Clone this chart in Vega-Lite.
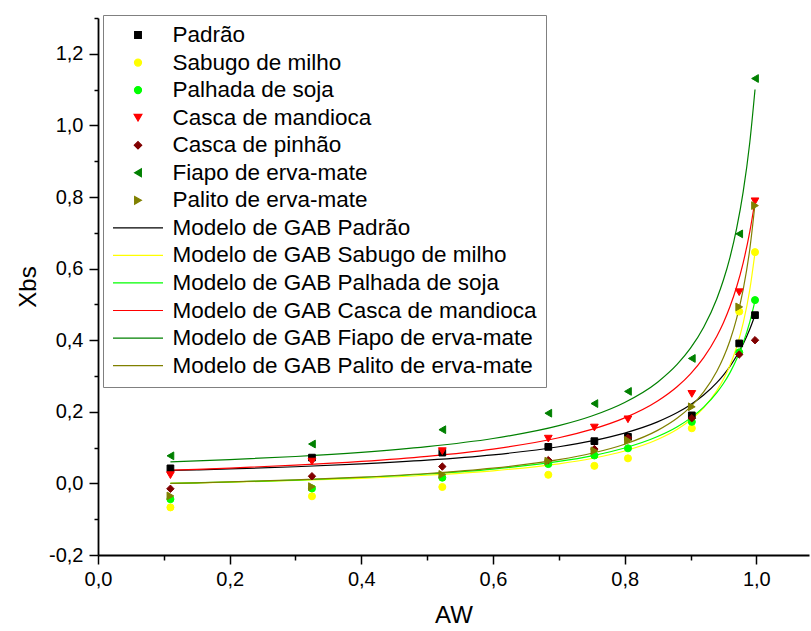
{
  "$schema": "https://vega.github.io/schema/vega-lite/v6.json",
  "width": 711,
  "height": 537,
  "autosize": {"type": "none"},
  "padding": {"left": 98, "top": 18, "right": 2, "bottom": 76},
  "background": "white",
  "config": {
    "view": {"stroke": null},
    "axis": {
      "domainColor": "black",
      "domainWidth": 1.8,
      "tickColor": "black",
      "tickWidth": 1.5,
      "labelFont": "Liberation Sans",
      "labelFontSize": 20,
      "labelColor": "black",
      "titleFont": "Liberation Sans",
      "titleFontSize": 24,
      "titleFontWeight": "normal",
      "titleColor": "black",
      "grid": false
    }
  },
  "datasets": {
    "pts": [
      {"serie": "Padrão", "aw": 0.11, "xbs": 0.042},
      {"serie": "Padrão", "aw": 0.325, "xbs": 0.072},
      {"serie": "Padrão", "aw": 0.523, "xbs": 0.086},
      {"serie": "Padrão", "aw": 0.684, "xbs": 0.102},
      {"serie": "Padrão", "aw": 0.754, "xbs": 0.118},
      {"serie": "Padrão", "aw": 0.805, "xbs": 0.130},
      {"serie": "Padrão", "aw": 0.902, "xbs": 0.190},
      {"serie": "Padrão", "aw": 0.974, "xbs": 0.391},
      {"serie": "Padrão", "aw": 0.998, "xbs": 0.470},
      {"serie": "Sabugo de milho", "aw": 0.11, "xbs": -0.067},
      {"serie": "Sabugo de milho", "aw": 0.325, "xbs": -0.036},
      {"serie": "Sabugo de milho", "aw": 0.523, "xbs": -0.010},
      {"serie": "Sabugo de milho", "aw": 0.684, "xbs": 0.024},
      {"serie": "Sabugo de milho", "aw": 0.754, "xbs": 0.049},
      {"serie": "Sabugo de milho", "aw": 0.805, "xbs": 0.070},
      {"serie": "Sabugo de milho", "aw": 0.902, "xbs": 0.154},
      {"serie": "Sabugo de milho", "aw": 0.974, "xbs": 0.480},
      {"serie": "Sabugo de milho", "aw": 0.998, "xbs": 0.646},
      {"serie": "Palhada de soja", "aw": 0.11, "xbs": -0.044},
      {"serie": "Palhada de soja", "aw": 0.325, "xbs": -0.014},
      {"serie": "Palhada de soja", "aw": 0.523, "xbs": 0.016},
      {"serie": "Palhada de soja", "aw": 0.684, "xbs": 0.054},
      {"serie": "Palhada de soja", "aw": 0.754, "xbs": 0.078},
      {"serie": "Palhada de soja", "aw": 0.805, "xbs": 0.098},
      {"serie": "Palhada de soja", "aw": 0.902, "xbs": 0.172},
      {"serie": "Palhada de soja", "aw": 0.974, "xbs": 0.366},
      {"serie": "Palhada de soja", "aw": 0.998, "xbs": 0.512},
      {"serie": "Casca de mandioca", "aw": 0.11, "xbs": 0.023},
      {"serie": "Casca de mandioca", "aw": 0.325, "xbs": 0.061},
      {"serie": "Casca de mandioca", "aw": 0.523, "xbs": 0.090},
      {"serie": "Casca de mandioca", "aw": 0.684, "xbs": 0.125},
      {"serie": "Casca de mandioca", "aw": 0.754, "xbs": 0.156},
      {"serie": "Casca de mandioca", "aw": 0.805, "xbs": 0.179},
      {"serie": "Casca de mandioca", "aw": 0.902, "xbs": 0.250},
      {"serie": "Casca de mandioca", "aw": 0.974, "xbs": 0.534},
      {"serie": "Casca de mandioca", "aw": 0.998, "xbs": 0.788},
      {"serie": "Casca de pinhão", "aw": 0.11, "xbs": -0.015},
      {"serie": "Casca de pinhão", "aw": 0.325, "xbs": 0.020},
      {"serie": "Casca de pinhão", "aw": 0.523, "xbs": 0.047},
      {"serie": "Casca de pinhão", "aw": 0.684, "xbs": 0.065},
      {"serie": "Casca de pinhão", "aw": 0.754, "xbs": 0.096},
      {"serie": "Casca de pinhão", "aw": 0.805, "xbs": 0.127},
      {"serie": "Casca de pinhão", "aw": 0.902, "xbs": 0.182},
      {"serie": "Casca de pinhão", "aw": 0.974, "xbs": 0.360},
      {"serie": "Casca de pinhão", "aw": 0.998, "xbs": 0.400},
      {"serie": "Fiapo de erva-mate", "aw": 0.11, "xbs": 0.077},
      {"serie": "Fiapo de erva-mate", "aw": 0.325, "xbs": 0.110},
      {"serie": "Fiapo de erva-mate", "aw": 0.523, "xbs": 0.150},
      {"serie": "Fiapo de erva-mate", "aw": 0.684, "xbs": 0.196},
      {"serie": "Fiapo de erva-mate", "aw": 0.754, "xbs": 0.223},
      {"serie": "Fiapo de erva-mate", "aw": 0.805, "xbs": 0.257},
      {"serie": "Fiapo de erva-mate", "aw": 0.902, "xbs": 0.349},
      {"serie": "Fiapo de erva-mate", "aw": 0.974, "xbs": 0.697},
      {"serie": "Fiapo de erva-mate", "aw": 0.998, "xbs": 1.131},
      {"serie": "Palito de erva-mate", "aw": 0.11, "xbs": -0.035},
      {"serie": "Palito de erva-mate", "aw": 0.325, "xbs": -0.009},
      {"serie": "Palito de erva-mate", "aw": 0.523, "xbs": 0.025},
      {"serie": "Palito de erva-mate", "aw": 0.684, "xbs": 0.062},
      {"serie": "Palito de erva-mate", "aw": 0.754, "xbs": 0.091},
      {"serie": "Palito de erva-mate", "aw": 0.805, "xbs": 0.120},
      {"serie": "Palito de erva-mate", "aw": 0.902, "xbs": 0.214},
      {"serie": "Palito de erva-mate", "aw": 0.974, "xbs": 0.493},
      {"serie": "Palito de erva-mate", "aw": 0.998, "xbs": 0.776}
    ],
    "gab": [
      {"serie": "Modelo de GAB Padrão", "aw": 0.11, "xbs": 0.0360},
      {"serie": "Modelo de GAB Padrão", "aw": 0.15, "xbs": 0.0379},
      {"serie": "Modelo de GAB Padrão", "aw": 0.2, "xbs": 0.0404},
      {"serie": "Modelo de GAB Padrão", "aw": 0.3, "xbs": 0.0465},
      {"serie": "Modelo de GAB Padrão", "aw": 0.4, "xbs": 0.0544},
      {"serie": "Modelo de GAB Padrão", "aw": 0.5, "xbs": 0.0649},
      {"serie": "Modelo de GAB Padrão", "aw": 0.6, "xbs": 0.0798},
      {"serie": "Modelo de GAB Padrão", "aw": 0.7, "xbs": 0.1023},
      {"serie": "Modelo de GAB Padrão", "aw": 0.75, "xbs": 0.1186},
      {"serie": "Modelo de GAB Padrão", "aw": 0.8, "xbs": 0.1406},
      {"serie": "Modelo de GAB Padrão", "aw": 0.85, "xbs": 0.1718},
      {"serie": "Modelo de GAB Padrão", "aw": 0.88, "xbs": 0.1978},
      {"serie": "Modelo de GAB Padrão", "aw": 0.9, "xbs": 0.2197},
      {"serie": "Modelo de GAB Padrão", "aw": 0.92, "xbs": 0.2470},
      {"serie": "Modelo de GAB Padrão", "aw": 0.94, "xbs": 0.2816},
      {"serie": "Modelo de GAB Padrão", "aw": 0.95, "xbs": 0.3027},
      {"serie": "Modelo de GAB Padrão", "aw": 0.96, "xbs": 0.3271},
      {"serie": "Modelo de GAB Padrão", "aw": 0.97, "xbs": 0.3557},
      {"serie": "Modelo de GAB Padrão", "aw": 0.98, "xbs": 0.3897},
      {"serie": "Modelo de GAB Padrão", "aw": 0.99, "xbs": 0.4306},
      {"serie": "Modelo de GAB Padrão", "aw": 0.998, "xbs": 0.4700},
      {"serie": "Modelo de GAB Sabugo de milho", "aw": 0.11, "xbs": 0.0000},
      {"serie": "Modelo de GAB Sabugo de milho", "aw": 0.15, "xbs": 0.0014},
      {"serie": "Modelo de GAB Sabugo de milho", "aw": 0.2, "xbs": 0.0034},
      {"serie": "Modelo de GAB Sabugo de milho", "aw": 0.3, "xbs": 0.0081},
      {"serie": "Modelo de GAB Sabugo de milho", "aw": 0.4, "xbs": 0.0143},
      {"serie": "Modelo de GAB Sabugo de milho", "aw": 0.5, "xbs": 0.0228},
      {"serie": "Modelo de GAB Sabugo de milho", "aw": 0.6, "xbs": 0.0352},
      {"serie": "Modelo de GAB Sabugo de milho", "aw": 0.7, "xbs": 0.0548},
      {"serie": "Modelo de GAB Sabugo de milho", "aw": 0.75, "xbs": 0.0696},
      {"serie": "Modelo de GAB Sabugo de milho", "aw": 0.8, "xbs": 0.0906},
      {"serie": "Modelo de GAB Sabugo de milho", "aw": 0.85, "xbs": 0.1225},
      {"serie": "Modelo de GAB Sabugo de milho", "aw": 0.88, "xbs": 0.1511},
      {"serie": "Modelo de GAB Sabugo de milho", "aw": 0.9, "xbs": 0.1769},
      {"serie": "Modelo de GAB Sabugo de milho", "aw": 0.92, "xbs": 0.2112},
      {"serie": "Modelo de GAB Sabugo de milho", "aw": 0.94, "xbs": 0.2590},
      {"serie": "Modelo de GAB Sabugo de milho", "aw": 0.95, "xbs": 0.2907},
      {"serie": "Modelo de GAB Sabugo de milho", "aw": 0.96, "xbs": 0.3301},
      {"serie": "Modelo de GAB Sabugo de milho", "aw": 0.97, "xbs": 0.3806},
      {"serie": "Modelo de GAB Sabugo de milho", "aw": 0.98, "xbs": 0.4475},
      {"serie": "Modelo de GAB Sabugo de milho", "aw": 0.99, "xbs": 0.5403},
      {"serie": "Modelo de GAB Sabugo de milho", "aw": 0.998, "xbs": 0.6450},
      {"serie": "Modelo de GAB Palhada de soja", "aw": 0.11, "xbs": 0.0000},
      {"serie": "Modelo de GAB Palhada de soja", "aw": 0.15, "xbs": 0.0017},
      {"serie": "Modelo de GAB Palhada de soja", "aw": 0.2, "xbs": 0.0039},
      {"serie": "Modelo de GAB Palhada de soja", "aw": 0.3, "xbs": 0.0094},
      {"serie": "Modelo de GAB Palhada de soja", "aw": 0.4, "xbs": 0.0165},
      {"serie": "Modelo de GAB Palhada de soja", "aw": 0.5, "xbs": 0.0262},
      {"serie": "Modelo de GAB Palhada de soja", "aw": 0.6, "xbs": 0.0400},
      {"serie": "Modelo de GAB Palhada de soja", "aw": 0.7, "xbs": 0.0613},
      {"serie": "Modelo de GAB Palhada de soja", "aw": 0.75, "xbs": 0.0771},
      {"serie": "Modelo de GAB Palhada de soja", "aw": 0.8, "xbs": 0.0989},
      {"serie": "Modelo de GAB Palhada de soja", "aw": 0.85, "xbs": 0.1309},
      {"serie": "Modelo de GAB Palhada de soja", "aw": 0.88, "xbs": 0.1584},
      {"serie": "Modelo de GAB Palhada de soja", "aw": 0.9, "xbs": 0.1823},
      {"serie": "Modelo de GAB Palhada de soja", "aw": 0.92, "xbs": 0.2129},
      {"serie": "Modelo de GAB Palhada de soja", "aw": 0.94, "xbs": 0.2534},
      {"serie": "Modelo de GAB Palhada de soja", "aw": 0.95, "xbs": 0.2790},
      {"serie": "Modelo de GAB Palhada de soja", "aw": 0.96, "xbs": 0.3095},
      {"serie": "Modelo de GAB Palhada de soja", "aw": 0.97, "xbs": 0.3466},
      {"serie": "Modelo de GAB Palhada de soja", "aw": 0.98, "xbs": 0.3924},
      {"serie": "Modelo de GAB Palhada de soja", "aw": 0.99, "xbs": 0.4507},
      {"serie": "Modelo de GAB Palhada de soja", "aw": 0.998, "xbs": 0.5100},
      {"serie": "Modelo de GAB Casca de mandioca", "aw": 0.11, "xbs": 0.0370},
      {"serie": "Modelo de GAB Casca de mandioca", "aw": 0.15, "xbs": 0.0394},
      {"serie": "Modelo de GAB Casca de mandioca", "aw": 0.2, "xbs": 0.0428},
      {"serie": "Modelo de GAB Casca de mandioca", "aw": 0.3, "xbs": 0.0509},
      {"serie": "Modelo de GAB Casca de mandioca", "aw": 0.4, "xbs": 0.0614},
      {"serie": "Modelo de GAB Casca de mandioca", "aw": 0.5, "xbs": 0.0756},
      {"serie": "Modelo de GAB Casca de mandioca", "aw": 0.6, "xbs": 0.0960},
      {"serie": "Modelo de GAB Casca de mandioca", "aw": 0.7, "xbs": 0.1275},
      {"serie": "Modelo de GAB Casca de mandioca", "aw": 0.75, "xbs": 0.1508},
      {"serie": "Modelo de GAB Casca de mandioca", "aw": 0.8, "xbs": 0.1830},
      {"serie": "Modelo de GAB Casca de mandioca", "aw": 0.85, "xbs": 0.2302},
      {"serie": "Modelo de GAB Casca de mandioca", "aw": 0.88, "xbs": 0.2708},
      {"serie": "Modelo de GAB Casca de mandioca", "aw": 0.9, "xbs": 0.3062},
      {"serie": "Modelo de GAB Casca de mandioca", "aw": 0.92, "xbs": 0.3514},
      {"serie": "Modelo de GAB Casca de mandioca", "aw": 0.94, "xbs": 0.4112},
      {"serie": "Modelo de GAB Casca de mandioca", "aw": 0.95, "xbs": 0.4489},
      {"serie": "Modelo de GAB Casca de mandioca", "aw": 0.96, "xbs": 0.4940},
      {"serie": "Modelo de GAB Casca de mandioca", "aw": 0.97, "xbs": 0.5486},
      {"serie": "Modelo de GAB Casca de mandioca", "aw": 0.98, "xbs": 0.6163},
      {"serie": "Modelo de GAB Casca de mandioca", "aw": 0.99, "xbs": 0.7024},
      {"serie": "Modelo de GAB Casca de mandioca", "aw": 0.998, "xbs": 0.7900},
      {"serie": "Modelo de GAB Fiapo de erva-mate", "aw": 0.11, "xbs": 0.0600},
      {"serie": "Modelo de GAB Fiapo de erva-mate", "aw": 0.15, "xbs": 0.0627},
      {"serie": "Modelo de GAB Fiapo de erva-mate", "aw": 0.2, "xbs": 0.0664},
      {"serie": "Modelo de GAB Fiapo de erva-mate", "aw": 0.3, "xbs": 0.0752},
      {"serie": "Modelo de GAB Fiapo de erva-mate", "aw": 0.4, "xbs": 0.0868},
      {"serie": "Modelo de GAB Fiapo de erva-mate", "aw": 0.5, "xbs": 0.1026},
      {"serie": "Modelo de GAB Fiapo de erva-mate", "aw": 0.6, "xbs": 0.1254},
      {"serie": "Modelo de GAB Fiapo de erva-mate", "aw": 0.7, "xbs": 0.1613},
      {"serie": "Modelo de GAB Fiapo de erva-mate", "aw": 0.75, "xbs": 0.1883},
      {"serie": "Modelo de GAB Fiapo de erva-mate", "aw": 0.8, "xbs": 0.2261},
      {"serie": "Modelo de GAB Fiapo de erva-mate", "aw": 0.85, "xbs": 0.2828},
      {"serie": "Modelo de GAB Fiapo de erva-mate", "aw": 0.88, "xbs": 0.3330},
      {"serie": "Modelo de GAB Fiapo de erva-mate", "aw": 0.9, "xbs": 0.3776},
      {"serie": "Modelo de GAB Fiapo de erva-mate", "aw": 0.92, "xbs": 0.4361},
      {"serie": "Modelo de GAB Fiapo de erva-mate", "aw": 0.94, "xbs": 0.5159},
      {"serie": "Modelo de GAB Fiapo de erva-mate", "aw": 0.95, "xbs": 0.5680},
      {"serie": "Modelo de GAB Fiapo de erva-mate", "aw": 0.96, "xbs": 0.6316},
      {"serie": "Modelo de GAB Fiapo de erva-mate", "aw": 0.97, "xbs": 0.7114},
      {"serie": "Modelo de GAB Fiapo de erva-mate", "aw": 0.98, "xbs": 0.8141},
      {"serie": "Modelo de GAB Fiapo de erva-mate", "aw": 0.99, "xbs": 0.9516},
      {"serie": "Modelo de GAB Fiapo de erva-mate", "aw": 0.998, "xbs": 1.1002},
      {"serie": "Modelo de GAB Palito de erva-mate", "aw": 0.11, "xbs": 0.0000},
      {"serie": "Modelo de GAB Palito de erva-mate", "aw": 0.15, "xbs": 0.0017},
      {"serie": "Modelo de GAB Palito de erva-mate", "aw": 0.2, "xbs": 0.0041},
      {"serie": "Modelo de GAB Palito de erva-mate", "aw": 0.3, "xbs": 0.0098},
      {"serie": "Modelo de GAB Palito de erva-mate", "aw": 0.4, "xbs": 0.0173},
      {"serie": "Modelo de GAB Palito de erva-mate", "aw": 0.5, "xbs": 0.0276},
      {"serie": "Modelo de GAB Palito de erva-mate", "aw": 0.6, "xbs": 0.0426},
      {"serie": "Modelo de GAB Palito de erva-mate", "aw": 0.7, "xbs": 0.0662},
      {"serie": "Modelo de GAB Palito de erva-mate", "aw": 0.75, "xbs": 0.0842},
      {"serie": "Modelo de GAB Palito de erva-mate", "aw": 0.8, "xbs": 0.1095},
      {"serie": "Modelo de GAB Palito de erva-mate", "aw": 0.85, "xbs": 0.1481},
      {"serie": "Modelo de GAB Palito de erva-mate", "aw": 0.88, "xbs": 0.1827},
      {"serie": "Modelo de GAB Palito de erva-mate", "aw": 0.9, "xbs": 0.2139},
      {"serie": "Modelo de GAB Palito de erva-mate", "aw": 0.92, "xbs": 0.2554},
      {"serie": "Modelo de GAB Palito de erva-mate", "aw": 0.94, "xbs": 0.3132},
      {"serie": "Modelo de GAB Palito de erva-mate", "aw": 0.95, "xbs": 0.3515},
      {"serie": "Modelo de GAB Palito de erva-mate", "aw": 0.96, "xbs": 0.3993},
      {"serie": "Modelo de GAB Palito de erva-mate", "aw": 0.97, "xbs": 0.4603},
      {"serie": "Modelo de GAB Palito de erva-mate", "aw": 0.98, "xbs": 0.5412},
      {"serie": "Modelo de GAB Palito de erva-mate", "aw": 0.99, "xbs": 0.6534},
      {"serie": "Modelo de GAB Palito de erva-mate", "aw": 0.998, "xbs": 0.7801}
    ]
  },
  "encoding": {
    "x": {
      "field": "aw", "type": "quantitative", "title": "AW",
      "scale": {"domain": [0, 1.08], "nice": false, "zero": false},
      "axis": {
        "values": [0, 0.1, 0.2, 0.3, 0.4, 0.5, 0.6, 0.7, 0.8, 0.9, 1.0],
        "labelExpr": "round(datum.value*10) % 2 == 0 ? replace(format(datum.value, '.1f'), '.', ',') : ''",
        "tickSize": {"condition": {"test": "round(datum.value*10) % 2 != 0", "value": 5}, "value": 9},
        "labelPadding": 5,
        "labelFlush": false,
        "titlePadding": 14
      }
    },
    "y": {
      "field": "xbs", "type": "quantitative", "title": "Xbs",
      "scale": {"domain": [-0.2, 1.3], "nice": false, "zero": false},
      "axis": {
        "values": [-0.2, -0.1, 0, 0.1, 0.2, 0.3, 0.4, 0.5, 0.6, 0.7, 0.8, 0.9, 1.0, 1.1, 1.2, 1.3],
        "labelExpr": "abs(round(datum.value*10)) % 2 == 0 ? replace(replace(format(datum.value, '.1f'), '.', ','), '\u2212', '-') : ''",
        "tickSize": {"condition": {"test": "abs(round(datum.value*10)) % 2 != 0", "value": 4}, "value": 9},
        "labelPadding": 6,
        "labelFlush": false,
        "titlePadding": 8
      }
    }
  },
  "layer": [
    {
      "data": {"name": "gab"},
      "mark": {"type": "line", "strokeWidth": 1.2, "interpolate": "monotone"},
      "encoding": {
        "stroke": {
          "field": "serie", "type": "nominal",
          "scale": {
            "domain": ["Padrão", "Sabugo de milho", "Palhada de soja", "Casca de mandioca", "Casca de pinhão", "Fiapo de erva-mate", "Palito de erva-mate", "Modelo de GAB Padrão", "Modelo de GAB Sabugo de milho", "Modelo de GAB Palhada de soja", "Modelo de GAB Casca de mandioca", "Modelo de GAB Fiapo de erva-mate", "Modelo de GAB Palito de erva-mate"],
            "range": ["#000000", "#FFFF00", "#00FF00", "#FF0000", "#800000", "#008000", "#808000", "#000000", "#FFFF00", "#00FF00", "#FF0000", "#008000", "#808000"]
          },
          "legend": {
            "title": null, "orient": "none", "legendX": 5, "legendY": -3,
            "padding": 9, "strokeColor": "#808080", "fillColor": "white",
            "labelFont": "Liberation Sans", "labelFontSize": 22.5, "labelColor": "black",
            "labelOffset": 8.5, "labelLimit": 600, "clipHeight": 22, "rowPadding": 4.55,
            "symbolStrokeWidth": 1.2, "symbolOpacity": 1
          }
        }
      }
    },
    {
      "data": {"name": "pts"},
      "mark": {"type": "point", "filled": true, "opacity": 1, "strokeWidth": 1},
      "encoding": {
        "fill": {
          "field": "serie", "type": "nominal",
          "scale": {
            "domain": ["Padrão", "Sabugo de milho", "Palhada de soja", "Casca de mandioca", "Casca de pinhão", "Fiapo de erva-mate", "Palito de erva-mate", "Modelo de GAB Padrão", "Modelo de GAB Sabugo de milho", "Modelo de GAB Palhada de soja", "Modelo de GAB Casca de mandioca", "Modelo de GAB Fiapo de erva-mate", "Modelo de GAB Palito de erva-mate"],
            "range": ["#000000", "#FFFF00", "#00FF00", "#FF0000", "#800000", "#008000", "#808000", "#000000", "#FFFF00", "#00FF00", "#FF0000", "#008000", "#808000"]
          },
          "legend": {
            "title": null, "orient": "none", "legendX": 5, "legendY": -3,
            "padding": 9, "strokeColor": "#808080", "fillColor": "white",
            "labelFont": "Liberation Sans", "labelFontSize": 22.5, "labelColor": "black",
            "labelOffset": 8.5, "labelLimit": 600, "clipHeight": 22, "rowPadding": 4.55,
            "symbolStrokeWidth": 1.2, "symbolOpacity": 1
          }
        },
        "stroke": {"field": "serie", "type": "nominal"},
        "shape": {
          "field": "serie", "type": "nominal",
          "scale": {
            "domain": ["Padrão", "Sabugo de milho", "Palhada de soja", "Casca de mandioca", "Casca de pinhão", "Fiapo de erva-mate", "Palito de erva-mate", "Modelo de GAB Padrão", "Modelo de GAB Sabugo de milho", "Modelo de GAB Palhada de soja", "Modelo de GAB Casca de mandioca", "Modelo de GAB Fiapo de erva-mate", "Modelo de GAB Palito de erva-mate"],
            "range": ["square", "circle", "circle", "triangle-down", "diamond", "triangle-left", "triangle-right", "stroke", "stroke", "stroke", "stroke", "stroke", "stroke"]
          },
          "legend": {
            "title": null, "orient": "none", "legendX": 5, "legendY": -3,
            "padding": 9, "strokeColor": "#808080", "fillColor": "white",
            "labelFont": "Liberation Sans", "labelFontSize": 22.5, "labelColor": "black",
            "labelOffset": 8.5, "labelLimit": 600, "clipHeight": 22, "rowPadding": 4.55,
            "symbolStrokeWidth": 1.2, "symbolOpacity": 1
          }
        },
        "size": {
          "field": "serie", "type": "nominal",
          "scale": {
            "type": "ordinal",
            "domain": ["Padrão", "Sabugo de milho", "Palhada de soja", "Casca de mandioca", "Casca de pinhão", "Fiapo de erva-mate", "Palito de erva-mate", "Modelo de GAB Padrão", "Modelo de GAB Sabugo de milho", "Modelo de GAB Palhada de soja", "Modelo de GAB Casca de mandioca", "Modelo de GAB Fiapo de erva-mate", "Modelo de GAB Palito de erva-mate"],
            "range": [45, 50, 50, 60, 55, 60, 60, 2500, 2500, 2500, 2500, 2500, 2500]
          },
          "legend": {
            "title": null, "orient": "none", "legendX": 5, "legendY": -3,
            "padding": 9, "strokeColor": "#808080", "fillColor": "white",
            "labelFont": "Liberation Sans", "labelFontSize": 22.5, "labelColor": "black",
            "labelOffset": 8.5, "labelLimit": 600, "clipHeight": 22, "rowPadding": 4.55,
            "symbolStrokeWidth": 1.2, "symbolOpacity": 1
          }
        }
      }
    }
  ]
}
